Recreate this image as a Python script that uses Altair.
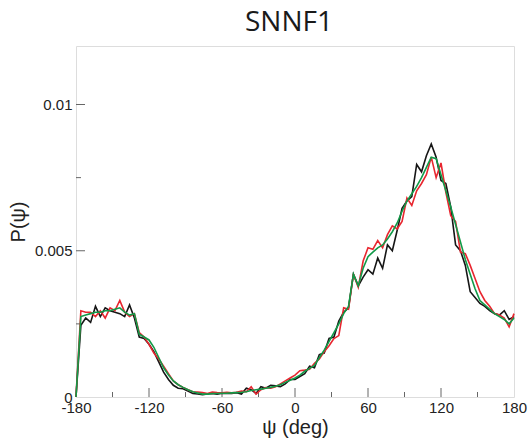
import altair as alt
import pandas as pd

psi = list(range(-180, 181, 4))

p_black = [0.0, 2.45, 2.7, 2.55, 3.1, 2.75, 3.05, 2.95, 2.9, 2.85, 2.75, 3.15, 2.7, 2.05, 2.0, 1.8,
           1.55, 1.2, 0.85, 0.6, 0.4, 0.3, 0.28, 0.2, 0.12, 0.1, 0.08, 0.1, 0.12, 0.1, 0.13, 0.12,
           0.12, 0.15, 0.1, 0.3, 0.25, 0.12, 0.35, 0.3, 0.4, 0.38, 0.35, 0.45, 0.6, 0.6, 0.7, 0.8,
           1.05, 1.0, 1.45, 1.5, 2.0, 2.05, 2.6, 2.9, 3.05, 4.2, 3.8, 4.1, 4.35, 4.2, 4.75, 4.4,
           5.2, 5.0, 5.7, 6.45, 6.7, 6.85, 7.95, 7.7, 8.25, 8.65, 8.2, 7.4, 7.3, 6.5, 5.2, 5.0,
           4.5, 3.6, 3.4, 3.2, 3.1, 2.95, 2.85, 2.8, 2.95, 2.65, 2.75]

p_red = [0.0, 2.95, 2.9, 2.9, 2.75, 2.95, 2.7, 3.05, 2.95, 3.3, 2.9, 2.75, 2.85, 2.2, 2.05, 1.8,
         1.5, 1.3, 1.05, 0.8, 0.55, 0.42, 0.33, 0.25, 0.18, 0.17, 0.15, 0.12, 0.17, 0.15, 0.14, 0.16,
         0.14, 0.16, 0.2, 0.18, 0.35, 0.1, 0.25, 0.32, 0.3, 0.35, 0.45, 0.55, 0.65, 0.75, 0.9, 0.92,
         0.95, 1.15, 1.3, 1.55, 1.75, 2.0, 2.1, 3.05, 3.0, 4.2, 3.75, 4.65, 5.1, 5.05, 5.35, 5.1,
         5.55, 5.85, 5.75, 6.0, 6.8, 6.55, 7.05, 7.3, 7.6, 8.2, 7.5, 8.0, 7.0, 6.2, 6.0, 4.95,
         4.9, 4.5, 4.05, 3.6, 3.3, 3.1, 2.85, 2.8, 2.7, 2.4, 2.85]

p_green = [0.0, 2.75, 2.8, 2.85, 2.9, 2.9, 2.95, 2.95, 3.0, 3.05, 2.9, 2.8, 2.85, 2.15, 2.05, 1.95,
           1.7, 1.35, 1.0, 0.75, 0.55, 0.42, 0.33, 0.25, 0.18, 0.14, 0.1, 0.1, 0.12, 0.12, 0.13, 0.13,
           0.14, 0.15, 0.16, 0.18, 0.22, 0.25, 0.27, 0.3, 0.33, 0.37, 0.42, 0.5, 0.57, 0.65, 0.75, 0.88,
           0.98, 1.08, 1.35, 1.6, 1.9, 2.2, 2.5, 2.85, 3.1, 4.2, 3.8, 4.4, 4.8, 4.95, 5.1, 5.2,
           5.4, 5.65, 5.95, 6.35, 6.7, 6.95, 7.2, 7.5, 7.85, 8.2, 8.15, 7.6, 7.05, 6.5, 5.9, 5.3,
           4.7, 4.2, 3.7, 3.3, 3.15, 3.0, 2.85, 2.75, 2.65, 2.5, 2.7]

x_labels = [-180, -120, -60, 0, 60, 120, 180]
x_major = [-120, -60, 0, 60, 120]
x_minor = [-150, -90, -30, 30, 90, 150]
y_labels = [0, 0.005, 0.01]
y_major = [0.005, 0.01]
y_minor = [0.0025, 0.0075]

W, H = 438, 351
xs = alt.Scale(domain=[-180, 180], nice=False, zero=False)
ys = alt.Scale(domain=[0, 0.012], nice=False)

def series_df(vals):
    return pd.DataFrame({"psi": psi, "p": [v / 1000.0 for v in vals]})

x_axis = alt.Axis(values=x_labels, title="ψ (deg)", ticks=False, domain=False, grid=False,
                  labelExpr="toString(datum.value)",
                  labelFontSize=15, labelFont="Liberation Sans", labelColor="#222",
                  labelPadding=3, titleFont="Liberation Sans", titleFontSize=20,
                  titleFontWeight="normal", titleColor="#222", titlePadding=2,
                  labelFlush=False, labelOverlap=False)
y_axis = alt.Axis(values=y_labels, title="P(ψ)", ticks=False, domain=False, grid=False,
                  labelExpr="datum.value == 0 ? '0' : format(datum.value, '.3~f')",
                  labelFontSize=15, labelFont="Liberation Sans", labelColor="#222",
                  labelPadding=4, titleFont="Liberation Sans", titleFontSize=20,
                  titleFontWeight="normal", titleColor="#222", titlePadding=6,
                  labelFlush=False, labelOverlap=False)

def line(vals, color):
    return alt.Chart(series_df(vals)).mark_line(color=color, strokeWidth=1.6).encode(
        x=alt.X("psi:Q", scale=xs, axis=x_axis),
        y=alt.Y("p:Q", scale=ys, axis=y_axis))

def xticks(vals, length):
    return alt.Chart(pd.DataFrame({"psi": vals})).mark_rule(color="#666", strokeWidth=1).encode(
        x=alt.X("psi:Q", scale=xs, axis=x_axis), y=alt.value(H), y2=alt.value(H - length))

def yticks(vals, length):
    return alt.Chart(pd.DataFrame({"p": vals})).mark_rule(color="#666", strokeWidth=1).encode(
        y=alt.Y("p:Q", scale=ys, axis=y_axis), x=alt.value(0), x2=alt.value(length))

chart = alt.layer(
    xticks(x_major, 9), xticks(x_minor, 5), yticks(y_major, 9), yticks(y_minor, 5),
    line(p_black, "#161616"),
    line(p_red, "#e8262f"),
    line(p_green, "#119a48"),
).properties(
    width=W, height=H,
    title=alt.TitleParams("SNNF1", fontSize=28, font="Open Sans", fontWeight="normal",
                          color="#1a1a1a", anchor="middle", baseline="alphabetic",
                          offset=-13, dx=-6),
    autosize=alt.AutoSizeParams(type="none"),
    padding={"left": 76, "top": 46, "right": 16, "bottom": 47},
).configure_view(
    stroke="#555", strokeWidth=1.3
).configure(background="white")

chart.save("out.html", embed_options={"renderer": "svg", "actions": False})
